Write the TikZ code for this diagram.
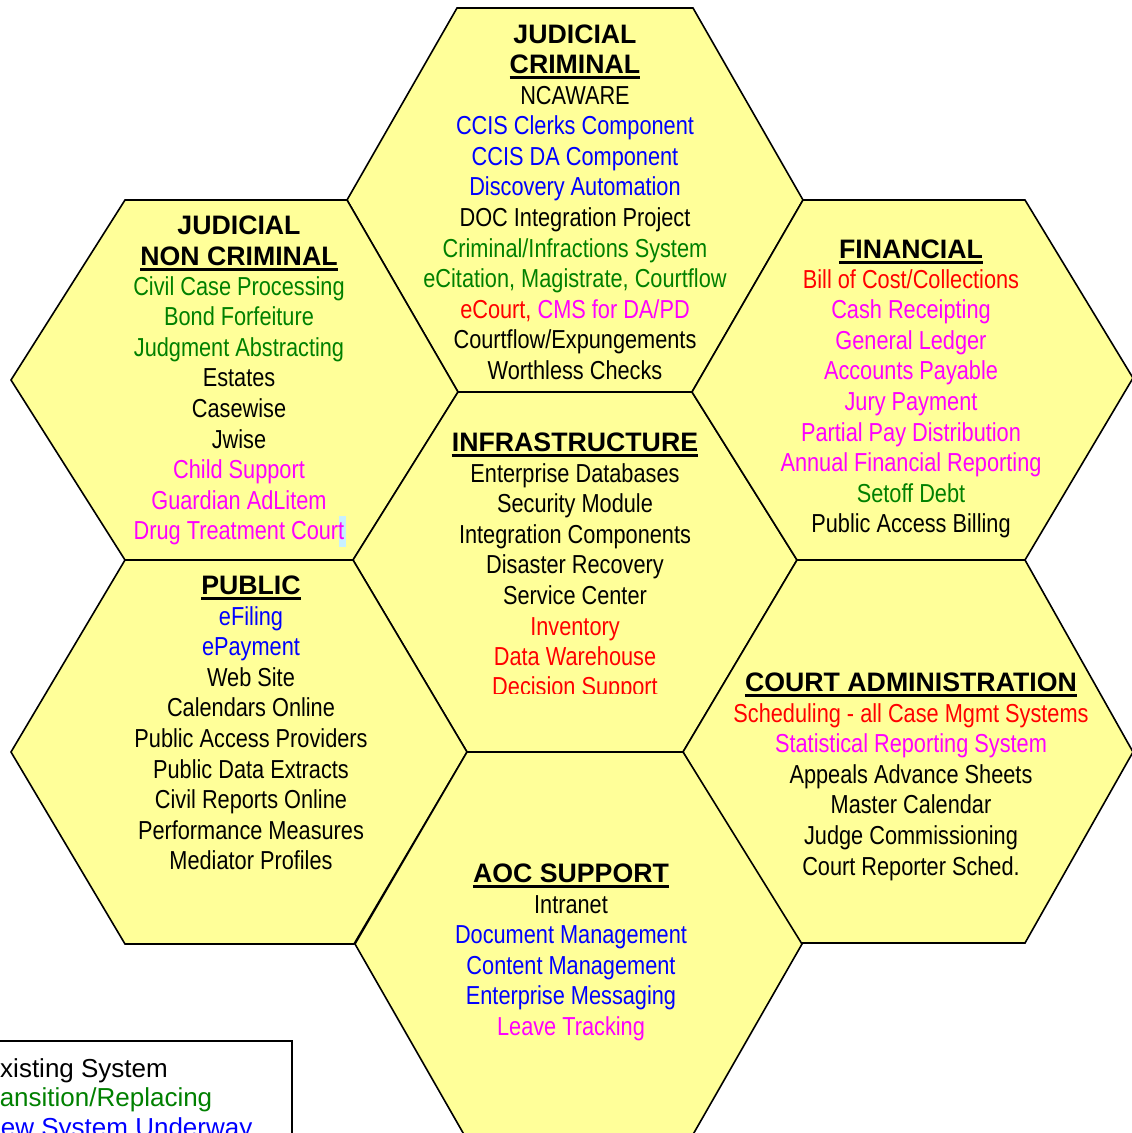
\documentclass[tikz,border=0pt]{standalone}
\usepackage{fontspec}
\setmainfont{Liberation Sans}[FakeStretch=0.836]
\newfontfamily\titlefont{Liberation Sans}
\newfontfamily\legfont{Liberation Sans}
\definecolor{hexfill}{RGB}{255,255,153}
\definecolor{cblue}{RGB}{0,0,255}
\definecolor{cgreen}{RGB}{0,128,0}
\definecolor{cred}{RGB}{255,0,0}
\definecolor{cmag}{RGB}{255,0,255}
\definecolor{hlcol}{RGB}{200,240,255}
\tikzset{
  hexagon/.style={draw=black, fill=hexfill, line width=1.6pt, line join=miter},
  item/.style={anchor=base, inner sep=0pt, font=\fontsize{26}{30}\selectfont},
  ttl/.style={anchor=base, inner sep=0pt, font=\titlefont\bfseries\fontsize{26.7}{30}\selectfont},
  uline/.style={line width=2.6pt},
  leg/.style={anchor=base west, inner sep=0pt, font=\legfont\fontsize{26}{29}\selectfont},
  legbox/.style={draw=black, line width=1.6pt, fill=white}
}
\newcommand\hexitems[4]{%
  \foreach \cl/\tx [count=\i] in {#4}
    \node[item, text=\cl] (#1\i) at (#2, {#3+30.6*(\i-1)}) {\tx};
}
\newcommand\underl[1]{%
  \draw[uline] ([yshift=-4.5pt]#1.base west) -- ([yshift=-4.5pt]#1.base east);
}
\begin{document}
\begin{tikzpicture}[x=1pt,y=-1pt]
\useasboundingbox (0,0) rectangle (1132,1133);
\clip (0,0) rectangle (1132,1133);
\fill[white] (0,0) rectangle (1132,1133);

% hexagons
\draw[hexagon] (457,8) -- (693,8) -- (803,200) -- (692,392) -- (458,392) -- (347,200) -- cycle;
\draw[hexagon] (125,200) -- (347,200) -- (458,392) -- (353,560) -- (125,560) -- (11,380) -- cycle;
\draw[hexagon] (458,392) -- (692,392) -- (797,560) -- (683,752) -- (467,752) -- (353,560) -- cycle;
\draw[hexagon] (803,200) -- (1025,200) -- (1133,378) -- (1025,560) -- (797,560) -- (692,392) -- cycle;
\draw[hexagon] (125,560) -- (353,560) -- (467,752) -- (354,944) -- (125,944) -- (11,752) -- cycle;
\draw[hexagon] (797,560) -- (1025,560) -- (1133,752) -- (1025,943) -- (797,943) -- (683,752) -- cycle;
\draw[hexagon] (467,752) -- (683,752) -- (802,944) -- (691,1138) -- (466,1138) -- (355,944) -- cycle;

% JUDICIAL CRIMINAL
\node[ttl] (jct1) at (575,43) {JUDICIAL};
\node[ttl] (jct2) at (575,73) {CRIMINAL};
\underl{jct2}
\hexitems{jc}{575}{104}{black/NCAWARE, cblue/{CCIS Clerks Component}, cblue/{CCIS DA Component},
  cblue/{Discovery Automation}, black/{DOC Integration Project}, cgreen/{Criminal/Infractions System},
  cgreen/{eCitation, Magistrate, Courtflow},
  black/{\textcolor{cred}{eCourt,} \textcolor{cmag}{CMS for DA/PD}},
  black/{Courtflow/Expungements}, black/{Worthless Checks}}

% JUDICIAL NON CRIMINAL
\node[ttl] (jnt1) at (239,234) {JUDICIAL};
\node[ttl] (jnt2) at (239,265) {NON CRIMINAL};
\underl{jnt2}
\fill[hlcol] (339,516) rectangle (346,547);
\hexitems{jn}{239}{295}{cgreen/{Civil Case Processing}, cgreen/{Bond Forfeiture}, cgreen/{Judgment Abstracting},
  black/Estates, black/Casewise, black/Jwise, cmag/{Child Support}, cmag/{Guardian AdLitem},
  cmag/{Drug Treatment Court}}

% INFRASTRUCTURE
\node[ttl] (inft) at (575,451) {INFRASTRUCTURE};
\underl{inft}
\hexitems{inf}{575}{482}{black/{Enterprise Databases}, black/{Security Module}, black/{Integration Components},
  black/{Disaster Recovery}, black/{Service Center}, cred/Inventory, cred/{Data Warehouse}}
\begin{scope}
  \clip (380,600) rectangle (780,693);
  \node[item, text=cred] (inf8) at (575,695.5) {Decision Support};
\end{scope}

% FINANCIAL
\node[ttl] (fint) at (911,258) {FINANCIAL};
\underl{fint}
\hexitems{fin}{911}{288}{cred/{Bill of Cost/Collections}, cmag/{Cash Receipting}, cmag/{General Ledger},
  cmag/{Accounts Payable}, cmag/{Jury Payment}, cmag/{Partial Pay Distribution},
  cmag/{Annual Financial Reporting}, cgreen/{Setoff Debt}, black/{Public Access Billing}}

% PUBLIC
\node[ttl] (pubt) at (251,594) {PUBLIC};
\underl{pubt}
\hexitems{pub}{251}{625}{cblue/eFiling, cblue/ePayment, black/{Web Site}, black/{Calendars Online},
  black/{Public Access Providers}, black/{Public Data Extracts}, black/{Civil Reports Online},
  black/{Performance Measures}, black/{Mediator Profiles}}

% COURT ADMINISTRATION
\node[ttl] (cat) at (911,691) {COURT ADMINISTRATION};
\underl{cat}
\hexitems{ca}{911}{722}{cred/{Scheduling - all Case Mgmt Systems}, cmag/{Statistical Reporting System},
  black/{Appeals Advance Sheets}, black/{Master Calendar}, black/{Judge Commissioning},
  black/{Court Reporter Sched.}}

% AOC SUPPORT
\node[ttl] (aoct) at (571,882) {AOC SUPPORT};
\underl{aoct}
\hexitems{aoc}{571}{913}{black/Intranet, cblue/{Document Management}, cblue/{Content Management},
  cblue/{Enterprise Messaging}, cmag/{Leave Tracking}}

% legend (cut off at the picture's left and bottom edges, as in the original)
\draw[legbox] (-40,1041) rectangle (292,1160);
\node[leg, text=black] (leg1) at (-17.3,1077) {Existing System};
\node[leg, text=cgreen] (leg2) at (-24,1106.5) {Transition/Replacing};
\node[leg, text=cblue] (leg3) at (-18,1136) {New System Underway};
\end{tikzpicture}
\end{document}
